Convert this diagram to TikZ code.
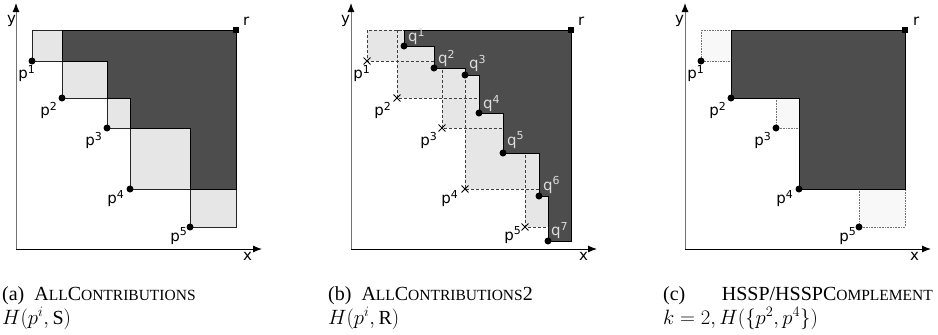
\documentclass[tikz,border=0pt]{standalone}
\usepackage{fontspec}
\setmainfont{Liberation Serif}
\newfontfamily\lblfont{DejaVu Sans}
\usetikzlibrary{arrows.meta,shapes.misc}
\definecolor{darkfill}{HTML}{4D4D4D}
\definecolor{lightfill}{HTML}{E6E6E6}
\definecolor{palefill}{HTML}{F8F8F8}
\definecolor{qtext}{HTML}{DDDDDD}
\newcommand\supl[2]{#1\raisebox{5.5pt}{\fontsize{11}{11}\selectfont #2}}
\newcommand\smc[1]{{\fontsize{15.5}{15.5}\selectfont #1}}
\tikzset{
  x=1pt, y=-1pt,
  dot/.style={circle,fill=black,inner sep=0pt,minimum size=7pt},
  rsq/.style={rectangle,fill=black,inner sep=0pt,minimum size=6pt},
  xmark/.style={cross out,draw=black,line width=0.9pt,inner sep=0pt,minimum size=6pt},
  lbl/.style={font=\lblfont\fontsize{15}{15}\selectfont,inner sep=0pt,anchor=base east},
  rlbl/.style={lbl,anchor=base west},
  qlbl/.style={lbl,anchor=base west,text=qtext},
  xax/.style={line width=1pt,black,-{Latex[length=9pt,width=7pt]}},
  yax/.style={line width=1pt,black!55,-{Latex[length=9pt,width=7pt,color=black]}},
  boxa/.style={fill=lightfill,draw=black!85,line width=0.8pt},
  darkreg/.style={fill=darkfill,draw=black,line width=0.8pt,line join=miter},
  dashbox/.style={draw=black!75,line width=0.7pt,dash pattern=on 3pt off 2pt},
  dotbox/.style={fill=palefill,draw=black!55,line width=0.7pt,dash pattern=on 0.8pt off 0.8pt},
  captxt/.style={font=\fontsize{20}{24}\selectfont,inner sep=0pt,anchor=base west,
                 text height=13pt,text depth=3pt},
}
\begin{document}
\begin{tikzpicture}
\useasboundingbox (0,0) rectangle (938,335);
%% ---------------- panel (a)
\begin{scope}[shift={(16,0)}]
  \draw[yax] (0,249) -- (0,3);
  \draw[xax] (0,249) -- (246,249);
  \node[rlbl] (ax) at (227,260) {x};
  \node[rlbl] (ay) at (-9,23) {y};
  \path[boxa] (16,30) rectangle (46,61);
  \path[boxa] (46,61) rectangle (91,98);
  \path[boxa] (91,98) rectangle (114,128);
  \path[boxa] (114,128) rectangle (174,189);
  \path[boxa] (174,189) rectangle (220,227);
  \path[darkreg] (46,30) -- (220,30) -- (220,189) -- (174,189) -- (174,128)
     -- (114,128) -- (114,98) -- (91,98) -- (91,61) -- (46,61) -- cycle;
  \node[rsq] (ar) at (220,30) {};
  \node[dot] (ap1) at (16,61) {};
  \node[dot] (ap2) at (46,98) {};
  \node[dot] (ap3) at (91,128) {};
  \node[dot] (ap4) at (114,189) {};
  \node[dot] (ap5) at (174,227) {};
  \node[rlbl] (arl) at (227,25) {r};
  \node[lbl] (ap1l) at (19,78.5) {\supl{p}{1}};
  \node[lbl] (ap2l) at (41,115.5) {\supl{p}{2}};
  \node[lbl] (ap3l) at (86,145.5) {\supl{p}{3}};
  \node[lbl] (ap4l) at (108,203.5) {\supl{p}{4}};
  \node[lbl] (ap5l) at (171,241) {\supl{p}{5}};
\end{scope}
%% ---------------- panel (b)
\begin{scope}[shift={(351,0)}]
  \draw[yax] (0,249) -- (0,3);
  \draw[xax] (0,249) -- (246,249);
  \node[rlbl] (bx) at (228,260) {x};
  \node[rlbl] (by) at (-10,23) {y};
  \fill[lightfill] (16,30) rectangle (220,61);
  \fill[lightfill] (46,30) rectangle (220,98);
  \fill[lightfill] (91,30) rectangle (220,128);
  \fill[lightfill] (114,30) rectangle (220,189);
  \fill[lightfill] (174,30) rectangle (220,227);
  \draw[dashbox] (16,30) rectangle (220,61);
  \draw[dashbox] (46,30) rectangle (220,98);
  \draw[dashbox] (91,30) rectangle (220,128);
  \draw[dashbox] (114,30) rectangle (220,189);
  \draw[dashbox] (174,30) rectangle (220,227);
  \path[darkreg] (53,30) -- (220,30) -- (220,241) -- (197,241) -- (197,196)
     -- (188,196) -- (188,153) -- (152,153) -- (152,113) -- (128,113)
     -- (128,75) -- (114,75) -- (114,68) -- (83,68) -- (83,46) -- (53,46) -- cycle;
  \node[rsq] (br) at (220,30) {};
  \node[xmark] (bp1) at (16,61) {};
  \node[xmark] (bp2) at (46,98) {};
  \node[xmark] (bp3) at (91,128) {};
  \node[xmark] (bp4) at (114,189) {};
  \node[xmark] (bp5) at (174,227) {};
  \node[dot] (bq1) at (53,46) {};
  \node[dot] (bq2) at (83,68) {};
  \node[dot] (bq3) at (114,75) {};
  \node[dot] (bq4) at (128,113) {};
  \node[dot] (bq5) at (152,153) {};
  \node[dot] (bq6) at (188,196) {};
  \node[dot] (bq7) at (197,241) {};
  \node[rlbl] (brl) at (227,25) {r};
  \node[lbl] (bp1l) at (19,78.5) {\supl{p}{1}};
  \node[lbl] (bp2l) at (40,115.5) {\supl{p}{2}};
  \node[lbl] (bp3l) at (86,145.5) {\supl{p}{3}};
  \node[lbl] (bp4l) at (107,203.5) {\supl{p}{4}};
  \node[lbl] (bp5l) at (170,240) {\supl{p}{5}};
  \node[qlbl] (bq1l) at (57,41.5) {\supl{q}{1}};
  \node[qlbl] (bq2l) at (87,63.5) {\supl{q}{2}};
  \node[qlbl] (bq3l) at (118,68.5) {\supl{q}{3}};
  \node[qlbl] (bq4l) at (132,108.5) {\supl{q}{4}};
  \node[qlbl] (bq5l) at (156,145) {\supl{q}{5}};
  \node[qlbl] (bq6l) at (192,190) {\supl{q}{6}};
  \node[qlbl] (bq7l) at (200,235.5) {\supl{q}{7}};
\end{scope}
%% ---------------- panel (c)
\begin{scope}[shift={(685,0)}]
  \draw[yax] (0,249) -- (0,3);
  \draw[xax] (0,249) -- (246,249);
  \node[rlbl] (cx) at (225,260) {x};
  \node[rlbl] (cy) at (-10,23) {y};
  \path[dotbox] (16,30) rectangle (46,61);
  \path[dotbox] (91,98) rectangle (114,128);
  \path[dotbox] (174,189) rectangle (220,227);
  \path[darkreg] (46,30) -- (220,30) -- (220,189) -- (114,189) -- (114,98)
     -- (46,98) -- cycle;
  \node[rsq] (cr) at (220,30) {};
  \node[dot] (cp1) at (16,61) {};
  \node[dot] (cp2) at (46,98) {};
  \node[dot] (cp3) at (91,128) {};
  \node[dot] (cp4) at (114,189) {};
  \node[dot] (cp5) at (174,227) {};
  \node[rlbl] (crl) at (228,25) {r};
  \node[lbl] (cp1l) at (19,78.5) {\supl{p}{1}};
  \node[lbl] (cp2l) at (41,115.5) {\supl{p}{2}};
  \node[lbl] (cp3l) at (86,145.5) {\supl{p}{3}};
  \node[lbl] (cp4l) at (108,203.5) {\supl{p}{4}};
  \node[lbl] (cp5l) at (171,241) {\supl{p}{5}};
\end{scope}
%% ---------------- captions
\node[captxt] (capa1) at (2,300) {(a)\ \ A\smc{LL}C\smc{ONTRIBUTIONS}};
\node[captxt] (capa2) at (2,324) {$H(p^{i},\mathrm{S})$};
\node[captxt] (capb1) at (328,300) {(b)\ \ A\smc{LL}C\smc{ONTRIBUTIONS}2};
\node[captxt] (capb2) at (328,324) {$H(p^{i},\mathrm{R})$};
\node[captxt] (capc1) at (663,300) {(c)};
\node[captxt,anchor=base east] (capc1r) at (933,300) {HSSP/HSSPC\smc{OMPLEMENT}};
\node[captxt] (capc2) at (663,324) {$k=2, H(\{p^{2},p^{4}\})$};
\end{tikzpicture}
\end{document}
